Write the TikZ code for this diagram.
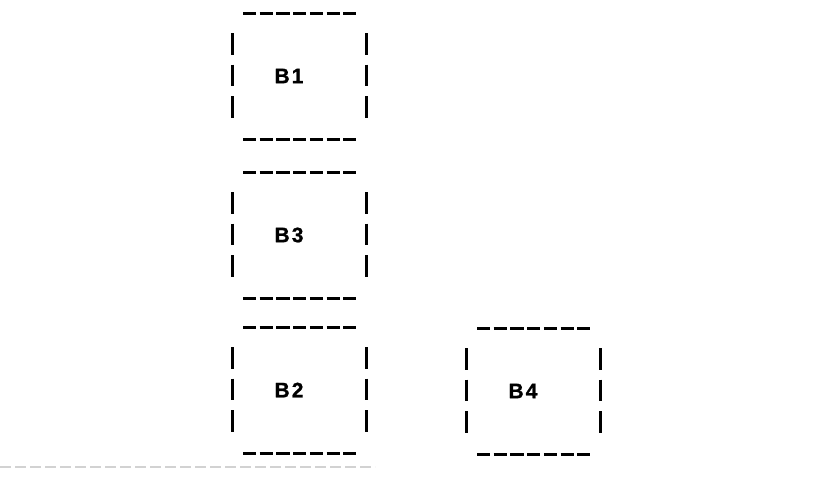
\documentclass[tikz,border=0pt]{standalone}
\usepackage{fontspec}
\setmainfont{Liberation Sans}
\usetikzlibrary{calc}

\begin{document}
\begin{tikzpicture}[x=1pt, y=-1pt]
  \tikzset{hdash/.style={line width=3pt, dash pattern=on 13.2pt off 3.5pt},
           vbar/.style={line width=3pt, dash pattern=on 21.5pt off 10pt},
           blk/.style={inner sep=0pt, font=\bfseries\fontsize{21}{21}\selectfont\addfontfeature{LetterSpace=10,FakeBold=1}}}
  \useasboundingbox (0,0) rectangle (832,483);
  % each block: a dashed row above and below, three bars at either side
  \foreach \n/\cx/\cy in {B1/299/76, B3/299/235, B2/299/390, B4/533/391}{
    \node[blk] (\n) at (\cx-10,\cy) {\n};
    \draw[hdash] ([shift={(-46,-63)}]\n.center) -- ++(113,0);
    \draw[hdash] ([shift={(-46,63)}]\n.center) -- ++(113,0);
    \draw[vbar] ([shift={(-57,-43)}]\n.center) -- ++(0,85);
    \draw[vbar] ([shift={(77,-43)}]\n.center) -- ++(0,85);
  }
  \draw[gray!35, line width=2pt, dash pattern=on 11pt off 4pt] (0,467) -- (375,467);
\end{tikzpicture}
\end{document}
